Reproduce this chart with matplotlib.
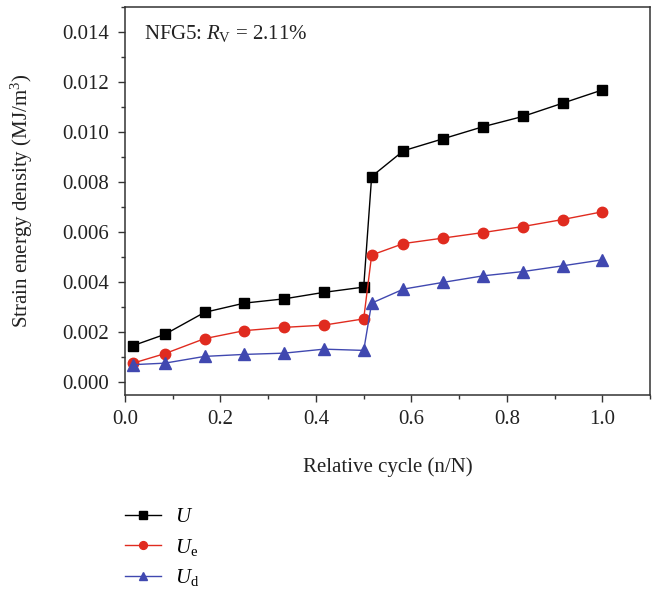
import numpy as np
import matplotlib
matplotlib.use("Agg")
import matplotlib.pyplot as plt
from matplotlib.ticker import MultipleLocator

plt.rcParams['font.family'] = ['Liberation Serif', 'DejaVu Serif']
plt.rcParams['mathtext.fontset'] = 'custom'
plt.rcParams['mathtext.rm'] = 'Liberation Serif'
plt.rcParams['mathtext.it'] = 'Liberation Serif:italic'
plt.rcParams['font.size'] = 15

# Data
cycle = [1/60, 5/60, 10/60, 15/60, 20/60, 25/60, 30/60, 31/60,
         35/60, 40/60, 45/60, 50/60, 55/60, 60/60]
U = [0.00147, 0.00192, 0.00280, 0.00317, 0.00334, 0.00360, 0.00381,
     0.00823, 0.00926, 0.00974, 0.01022, 0.01063, 0.01116, 0.01169]
Ue = [0.00077, 0.00115, 0.00175, 0.00207, 0.00220, 0.00229, 0.00254,
      0.00509, 0.00555, 0.00577, 0.00599, 0.00623, 0.00651, 0.00682]
Ud = [0.00071, 0.00077, 0.00104, 0.00112, 0.00117, 0.00133, 0.00128,
      0.00317, 0.00373, 0.00400, 0.00426, 0.00443, 0.00466, 0.00490]

fig = plt.figure(figsize=(6.58, 5.93), dpi=100)
ax = fig.add_axes([0.190, 0.334, 0.798, 0.654])

ax.plot(cycle, U, color='black', lw=1.0, marker='s', ms=6.8, label='$U$')
ax.plot(cycle, Ue, color='#e02b1f', lw=1.0, marker='o', ms=7.5, label='$U_\\mathrm{e}$')
ax.plot(cycle, Ud, color='#4048b0', lw=1.0, marker='^', ms=8, label='$U_\\mathrm{d}$')

ax.set_xlim(0, 1.1)
ax.set_ylim(-0.0005, 0.015)
ax.xaxis.set_minor_locator(MultipleLocator(0.1))
ax.yaxis.set_minor_locator(MultipleLocator(0.001))
ax.set_xticks([0.0, 0.2, 0.4, 0.6, 0.8, 1.0])
ax.set_xticklabels(['0.0', '0.2', '0.4', '0.6', '0.8', '1.0'])
ax.set_yticks(np.arange(0, 0.0141, 0.002))
ax.set_yticklabels(['%.3f' % v for v in np.arange(0, 0.0141, 0.002)])

ax.tick_params(which='major', direction='out', length=5.2, width=1, color='#333333',
               labelcolor='#222222', pad=6)
ax.tick_params(which='minor', direction='out', length=3, width=1, color='#333333')
for s in ax.spines.values():
    s.set_color('#333333')
    s.set_linewidth(1.1)

ax.set_xlabel('Relative cycle (n/N)', labelpad=20, color='#222222')
ax.set_ylabel('Strain energy density (MJ/m$^3$)', labelpad=20, color='#222222')

ax.text(0.037, 0.933, 'NFG5: $R_\\mathrm{V}$ = 2.11%', transform=ax.transAxes,
        ha='left', va='center', color='#222222')

fig.legend(loc='upper left', bbox_to_anchor=(0.178, 0.158), frameon=False,
           handlelength=1.7, labelspacing=0.45, markerscale=0.75, handletextpad=0.7,
           borderaxespad=0)

fig.savefig('out.png', dpi=100)
